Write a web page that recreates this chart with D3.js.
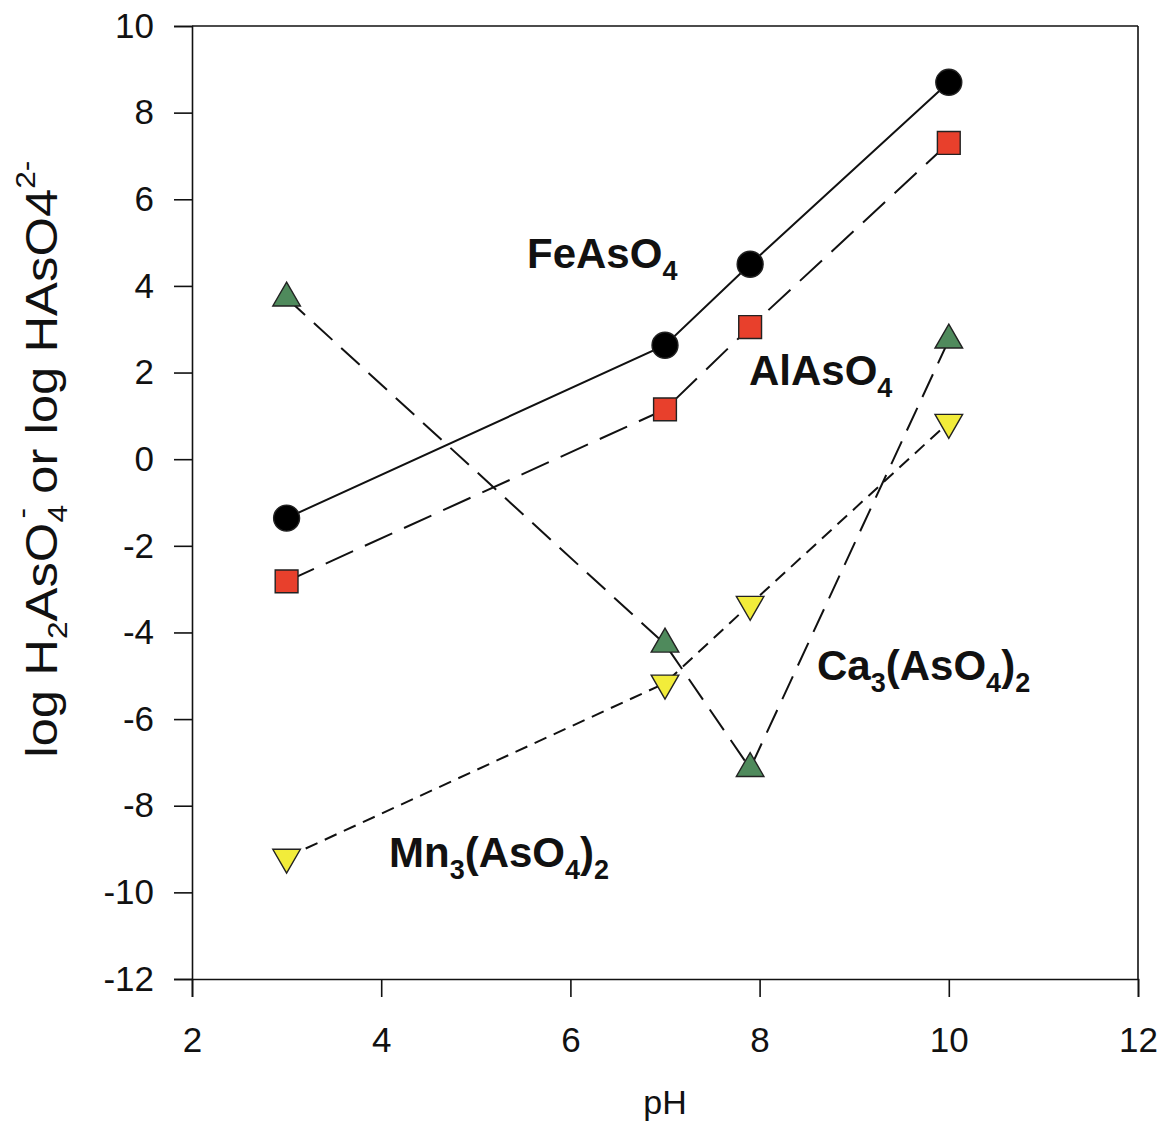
<!DOCTYPE html>
<html>
<head>
<meta charset="utf-8">
<script src="https://cdn.jsdelivr.net/npm/d3@7"></script>
<style>
  body { margin: 0; background: #fff; }
  text { font-family: Arial, "Liberation Sans", sans-serif; }
</style>
</head>
<body>
<div id="chart"></div>
<script>
// pH values shared by all series
const phValues = [3, 7, 7.9, 10];

// log activity values
const feAsO4 = [-1.36, 2.63, 4.5, 8.7];
const alAsO4 = [-2.82, 1.15, 3.05, 7.3];
const caAsO4 = [3.72, -4.27, -7.14, 2.75];
const mnAsO4 = [-9.19, -5.17, -3.35, 0.85];

const xTicks = [2, 4, 6, 8, 10, 12];
const yTicks = [-12, -10, -8, -6, -4, -2, 0, 2, 4, 6, 8, 10];

const W = 1166, H = 1127;
const margin = { top: 26, right: 28, bottom: 148, left: 192 };

const svg = d3.select("#chart").append("svg")
    .attr("width", W)
    .attr("height", H);

const x = d3.scaleLinear().domain([2, 12]).range([margin.left, W - margin.right]);
const y = d3.scaleLinear().domain([-12, 10]).range([H - margin.bottom, margin.top]);

// Axes
const xAxis = svg.append("g")
    .attr("transform", `translate(0,${y(-12)})`)
    .call(d3.axisBottom(x).tickValues(xTicks).tickSize(18).tickPadding(30).tickFormat(d3.format("d")));
const yAxis = svg.append("g")
    .attr("transform", `translate(${x(2)},0)`)
    .call(d3.axisLeft(y).tickValues(yTicks).tickSize(18).tickPadding(20).tickFormat(d => d < 0 ? "-" + Math.abs(d) : d));

[xAxis, yAxis].forEach(a => {
    a.select(".domain").attr("stroke", "#111").attr("stroke-width", 1.6);
    a.selectAll(".tick line").attr("stroke", "#111").attr("stroke-width", 1.6);
    a.selectAll(".tick text").attr("font-size", 35).attr("fill", "#111")
        .style("font-family", "Arial, 'Liberation Sans', sans-serif");
});

// frame top / right
svg.append("line").attr("x1", x(2)).attr("x2", x(12)).attr("y1", y(10)).attr("y2", y(10))
    .attr("stroke", "#111").attr("stroke-width", 1.6);
svg.append("line").attr("x1", x(12)).attr("x2", x(12)).attr("y1", y(10)).attr("y2", y(-12))
    .attr("stroke", "#111").attr("stroke-width", 1.6);

// Axis titles
svg.append("text")
    .attr("x", x(7)).attr("y", 1114)
    .attr("text-anchor", "middle")
    .attr("font-size", 34)
    .attr("fill", "#111")
    .text("pH");

const yTitle = svg.append("text")
    .attr("transform", `translate(57,${y(0)}) rotate(-90) scale(1.13,1)`)
    .attr("text-anchor", "middle")
    .attr("font-size", 45)
    .attr("fill", "#111");
yTitle.append("tspan").text("log H");
yTitle.append("tspan").attr("font-size", 28).attr("dy", 10).text("2");
yTitle.append("tspan").attr("dy", -10).text("AsO");
yTitle.append("tspan").attr("font-size", 28).attr("dy", 10).text("4");
yTitle.append("tspan").attr("font-size", 28).attr("dx", -12).attr("dy", -36).text("-");
yTitle.append("tspan").attr("dy", 26).text(" or log HAsO4");
yTitle.append("tspan").attr("font-size", 28).attr("dy", -22).text("2-");

// Series
const series = [
    { name: "FeAsO4", values: feAsO4, dash: null, shape: "circle", fill: "#000" },
    { name: "AlAsO4", values: alAsO4, dash: "30,13", shape: "square", fill: "#e8402c" },
    { name: "Ca3(AsO4)2", values: caAsO4, dash: "25,12", shape: "up", fill: "#4f8a5c" },
    { name: "Mn3(AsO4)2", values: mnAsO4, dash: "13,8", shape: "down", fill: "#f2ec3a" }
];

const line = d3.line().x(d => x(d[0])).y(d => y(d[1]));

series.forEach(s => {
    const pts = phValues.map((p, i) => [p, s.values[i]]);
    svg.append("path")
        .datum(pts)
        .attr("d", line)
        .attr("fill", "none")
        .attr("stroke", "#111")
        .attr("stroke-width", 2)
        .attr("stroke-dasharray", s.dash);
});

const symbolFor = shape => {
    if (shape === "circle") return d3.symbol(d3.symbolCircle, 530)();
    if (shape === "square") return d3.symbol(d3.symbolSquare, 520)();
    return d3.symbol(d3.symbolTriangle, 330)();
};

series.forEach(s => {
    const pts = phValues.map((p, i) => [p, s.values[i]]);
    svg.append("g").selectAll("path")
        .data(pts)
        .join("path")
        .attr("d", symbolFor(s.shape))
        .attr("transform", d => `translate(${x(d[0])},${y(d[1])})` + (s.shape === "down" ? " rotate(180)" : ""))
        .attr("fill", s.fill)
        .attr("stroke", "#222")
        .attr("stroke-width", 1.4);
});

// Labels with subscripts
function chemLabel(px, py, parts) {
    const t = svg.append("text")
        .attr("x", px).attr("y", py)
        .attr("font-size", 42)
        .attr("font-weight", "bold")
        .attr("fill", "#111");
    let shifted = false;
    parts.forEach(([txt, sub]) => {
        const sp = t.append("tspan").text(txt);
        if (sub && !shifted) { sp.attr("font-size", 27).attr("dy", 12); shifted = true; }
        else if (!sub && shifted) { sp.attr("dy", -12); shifted = false; }
        else if (sub) sp.attr("font-size", 27);
    });
}

chemLabel(527, 268, [["FeAsO", false], ["4", true]]);
chemLabel(749, 385, [["AlAsO", false], ["4", true]]);
chemLabel(817, 680, [["Ca", false], ["3", true], ["(AsO", false], ["4", true], [")", false], ["2", true]]);
chemLabel(389, 867, [["Mn", false], ["3", true], ["(AsO", false], ["4", true], [")", false], ["2", true]]);
</script>
</body>
</html>
